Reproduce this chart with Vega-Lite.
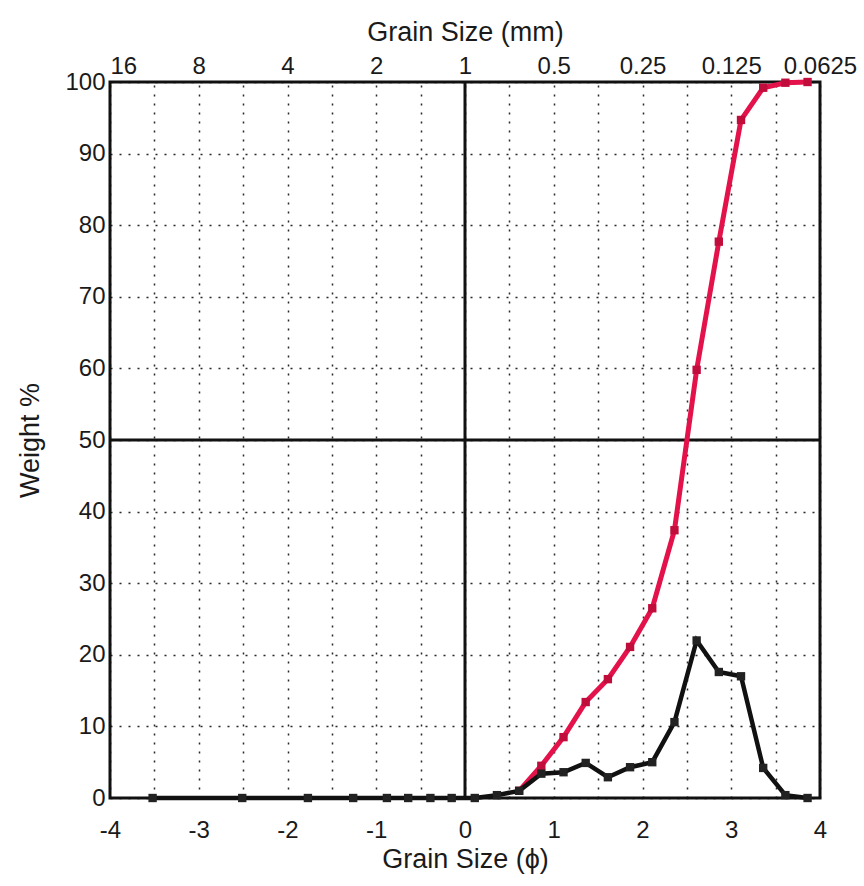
{
  "$schema": "https://vega.github.io/schema/vega-lite/v6.json",
  "width": 710,
  "height": 716,
  "autosize": "none",
  "padding": {"left": 110, "top": 82, "right": 44, "bottom": 88},
  "background": "white",
  "config": {
    "view": {"stroke": "#111", "strokeWidth": 3},
    "font": "Liberation Sans, Arial, sans-serif",
    "axis": {
      "labelFont": "Liberation Sans, Arial, sans-serif",
      "titleFont": "Liberation Sans, Arial, sans-serif",
      "labelFontSize": 24,
      "titleFontSize": 27,
      "titleFontWeight": "normal",
      "labelColor": "#1a1a1a",
      "titleColor": "#1a1a1a",
      "labelFlush": false,
      "domain": false,
      "ticks": false,
      "gridColor": "#111",
      "gridDash": [2, 7],
      "gridWidth": 1.5,
      "gridOpacity": 0.9
    }
  },
  "resolve": {"scale": {"x": "independent"}, "axis": {"x": "independent"}},
  "datasets": {
    "freq": [
      {"phi": -3.52, "weight": 0},
      {"phi": -2.51, "weight": 0},
      {"phi": -1.77, "weight": 0},
      {"phi": -1.26, "weight": 0},
      {"phi": -0.88, "weight": 0},
      {"phi": -0.64, "weight": 0},
      {"phi": -0.39, "weight": 0},
      {"phi": -0.15, "weight": 0},
      {"phi": 0.11, "weight": 0},
      {"phi": 0.36, "weight": 0.4},
      {"phi": 0.61, "weight": 1.0},
      {"phi": 0.86, "weight": 3.4},
      {"phi": 1.11, "weight": 3.6},
      {"phi": 1.36, "weight": 4.9},
      {"phi": 1.61, "weight": 2.9},
      {"phi": 1.86, "weight": 4.3},
      {"phi": 2.11, "weight": 5.0},
      {"phi": 2.36, "weight": 10.6},
      {"phi": 2.61, "weight": 22.0},
      {"phi": 2.86, "weight": 17.6},
      {"phi": 3.11, "weight": 17.0},
      {"phi": 3.36, "weight": 4.2},
      {"phi": 3.61, "weight": 0.4},
      {"phi": 3.86, "weight": 0}
    ],
    "cum": [
      {"phi": 0.61, "weight": 1.0},
      {"phi": 0.86, "weight": 4.5},
      {"phi": 1.11, "weight": 8.5},
      {"phi": 1.36, "weight": 13.4},
      {"phi": 1.61, "weight": 16.6},
      {"phi": 1.86, "weight": 21.1},
      {"phi": 2.11, "weight": 26.5},
      {"phi": 2.36, "weight": 37.4},
      {"phi": 2.61, "weight": 59.8},
      {"phi": 2.86, "weight": 77.7},
      {"phi": 3.11, "weight": 94.7},
      {"phi": 3.36, "weight": 99.2},
      {"phi": 3.61, "weight": 99.9},
      {"phi": 3.86, "weight": 100}
    ]
  },
  "layer": [
    {
      "data": {"values": [{"phi": 0}]},
      "mark": {"type": "rule", "color": "#111", "strokeWidth": 3},
      "encoding": {
        "x": {
          "field": "phi", "type": "quantitative",
          "scale": {"domain": [-4, 4], "nice": false, "zero": false},
          "axis": {
            "orient": "bottom",
            "values": [-4, -3, -2, -1, 0, 1, 2, 3, 4],
            "labelExpr": "toString(datum.value)",
            "grid": false,
            "labelPadding": 20,
            "title": "Grain Size (ϕ)",
            "titlePadding": 4
          }
        }
      }
    },
    {
      "data": {"values": [{"weight": 50}]},
      "mark": {"type": "rule", "color": "#111", "strokeWidth": 3},
      "encoding": {
        "y": {
          "field": "weight", "type": "quantitative",
          "scale": {"domain": [0, 100], "nice": false},
          "axis": {
            "orient": "left",
            "values": [0, 10, 20, 30, 40, 50, 60, 70, 80, 90, 100],
            "labelExpr": "toString(datum.value)",
            "grid": true,
            "labelPadding": 5,
            "title": "Weight %",
            "titlePadding": 20
          }
        }
      }
    },
    {
      "data": {"name": "cum"},
      "mark": {"type": "line", "color": "#e3124b", "strokeWidth": 5},
      "encoding": {
        "x": {
          "field": "phi", "type": "quantitative",
          "scale": {"domain": [-4, 4], "nice": false, "zero": false},
          "axis": {
            "orient": "top",
            "values": [-4, -3.5, -3, -2.5, -2, -1.5, -1, -0.5, 0, 0.5, 1, 1.5, 2, 2.5, 3, 3.5, 4],
            "labelExpr": "datum.value % 1 == 0 ? toString(pow(2, -datum.value)) : ''",
            "labelAlign": {"condition": {"test": "datum.value == -4", "value": "left"}, "value": "center"},
            "grid": true,
            "labelPadding": 4,
            "labelOverlap": false,
            "title": "Grain Size (mm)",
            "titlePadding": 8
          }
        },
        "y": {"field": "weight", "type": "quantitative"}
      }
    },
    {
      "data": {"name": "cum"},
      "mark": {"type": "square", "color": "#c10d3c", "opacity": 1, "size": 70},
      "encoding": {
        "x": {"field": "phi", "type": "quantitative", "scale": {"domain": [-4, 4], "nice": false, "zero": false}, "axis": null},
        "y": {"field": "weight", "type": "quantitative"}
      }
    },
    {
      "data": {"name": "freq"},
      "mark": {"type": "line", "color": "#111", "strokeWidth": 4.5},
      "encoding": {
        "x": {"field": "phi", "type": "quantitative", "scale": {"domain": [-4, 4], "nice": false, "zero": false}, "axis": null},
        "y": {"field": "weight", "type": "quantitative"}
      }
    },
    {
      "data": {"name": "freq"},
      "mark": {"type": "square", "color": "#222", "opacity": 1, "size": 70},
      "encoding": {
        "x": {"field": "phi", "type": "quantitative", "scale": {"domain": [-4, 4], "nice": false, "zero": false}, "axis": null},
        "y": {"field": "weight", "type": "quantitative"}
      }
    }
  ]
}
